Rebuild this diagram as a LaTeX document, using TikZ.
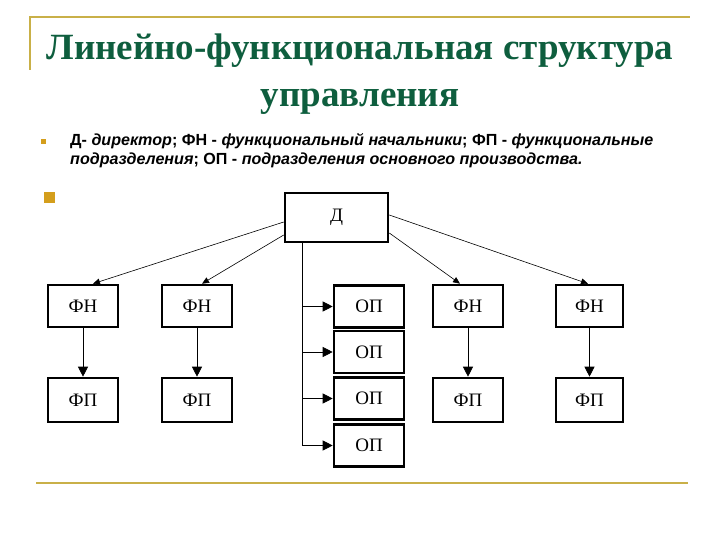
\documentclass[tikz,border=0pt]{standalone}
\usepackage{fontspec}
\setmainfont{Liberation Serif}
\setsansfont{Liberation Sans}
\setmonofont{Liberation Mono}
\usetikzlibrary{arrows.meta, positioning, calc}
\definecolor{TitleInk}{HTML}{0E5E3E}
\definecolor{RuleGold}{HTML}{C9B048}
\definecolor{DotGold}{HTML}{D49E1C}
\tikzset{
  unitbox/.style={draw=black, line width=2.6pt, fill=white, inner sep=0pt,
    minimum width=70pt, minimum height=42pt, font=\rmfamily\fontsize{19}{19}\selectfont},
  order/.style={-{Triangle[length=7pt, width=6pt]}, line width=0.6pt},
  link/.style={-{Triangle[length=10pt, width=10pt]}, line width=0.8pt},
}
\begin{document}
\begin{tikzpicture}[x=1pt, y=-1pt]
\useasboundingbox (0,0) rectangle (720,540);
% frame rules
\draw[RuleGold, line width=1.6pt] (30,70) -- (30,17) -- (690,17);
\draw[RuleGold, line width=2pt] (36,483) -- (688,483);
% title
\node[font=\bfseries\fontsize{37}{37}\selectfont, text=TitleInk] (title1) at (360,51)
  {Линейно-функциональная структура};
\node[font=\bfseries\fontsize{37}{37}\selectfont, text=TitleInk] (title2) at (360,102)
  {управления};
% legend
\fill[DotGold] (41,139) rectangle (46,144);
\node[anchor=north west, align=left, inner sep=0pt,
      font=\sffamily\bfseries\fontsize{16.1}{19}\selectfont] (legend) at (70,133)
  {Д- \textit{директор}; ФН - \textit{функциональный начальники}; ФП - \textit{функциональные}\\
   \textit{подразделения}; ОП - \textit{подразделения основного производства.}};
\fill[DotGold] (44,192) rectangle (55,203);
% boxes
\node[unitbox, minimum width=103pt, minimum height=49pt] (d) at (336.5,217.5) {Д};
\node[unitbox] (fn1) at (83,306) {ФН};
\node[unitbox] (fn2) at (197,306) {ФН};
\node[unitbox] (fn3) at (468,306) {ФН};
\node[unitbox, minimum width=67pt] (fn4) at (589.5,306) {ФН};
\node[unitbox, minimum height=44pt] (fp1) at (83,400) {ФП};
\node[unitbox, minimum height=44pt] (fp2) at (197,400) {ФП};
\node[unitbox, minimum height=44pt] (fp3) at (468,400) {ФП};
\node[unitbox, minimum width=67pt, minimum height=44pt] (fp4) at (589.5,400) {ФП};
\node[unitbox] (op1) at (369,306.5) {ОП};
\node[unitbox] (op2) at (369,352) {ОП};
\node[unitbox] (op3) at (369,398.5) {ОП};
\node[unitbox] (op4) at (369,445.5) {ОП};
% director to functional heads
\draw[order] ([yshift=-4.5pt]d.west) -- ([xshift=10pt]fn1.north);
\draw[order] ([yshift=-17.5pt]d.west) -- ([xshift=5pt]fn2.north);
\draw[order] ([yshift=-15.5pt]d.east) -- ([xshift=-8pt]fn3.north);
\draw[order] ([yshift=2.5pt]d.east) -- ([xshift=-1.5pt]fn4.north);
% heads to functional units
\foreach \i in {1,...,4}
  \draw[link] (fn\i) -- (fp\i);
% line to production units
\coordinate (trunk) at ([xshift=-34.5pt]d.south);
\draw[line width=0.8pt] (trunk) -- (trunk |- op4.west);
\foreach \i in {1,...,4}
  \draw[link] (trunk |- op\i.west) -- (op\i.west);
\end{tikzpicture}
\end{document}
